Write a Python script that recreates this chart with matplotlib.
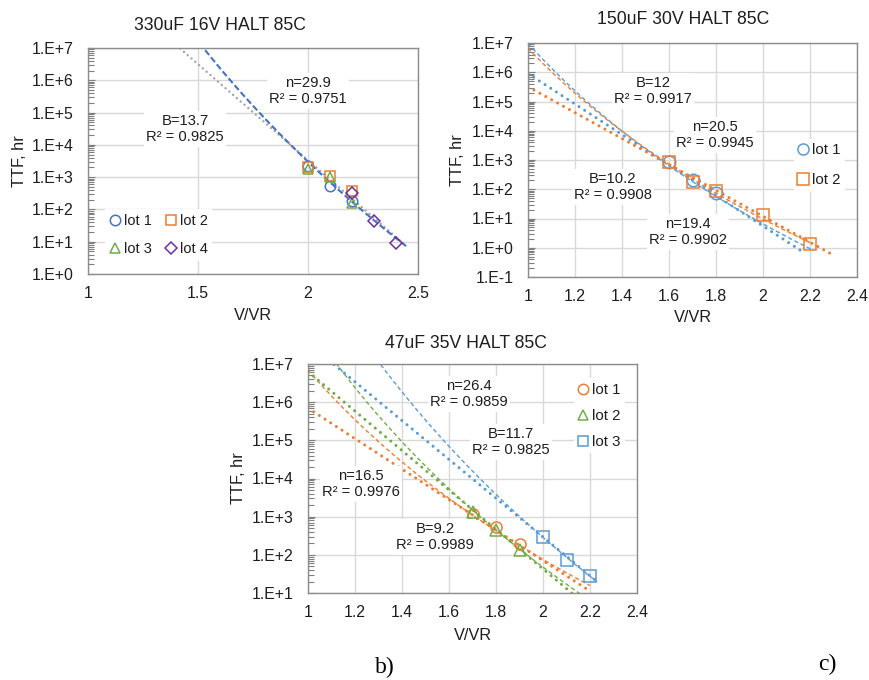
import numpy as np
import matplotlib
matplotlib.use('Agg')
import matplotlib.pyplot as plt
from matplotlib.ticker import LogLocator, NullFormatter
from matplotlib.lines import Line2D

plt.rcParams['font.family'] = ['Liberation Sans', 'DejaVu Sans']

# ---------------- data: 330uF 16V HALT 85C ----------------
a_title = "330uF 16V HALT 85C"
a_x = [2.0, 2.1, 2.2]
a_lot1 = [2200, 540, 182]
a_lot2 = [2100, 1080, 370]
a_lot3 = [1750, 1030, 155]
a_lot4_x = [2.2, 2.3, 2.4]
a_lot4 = [316, 45, 9.3]
# trendlines: (kind, coefficient, exponent, x_start, x_end)
a_exp_fit = ("exp", 2.65e15, 13.7, 1.0, 2.45)
a_pow_fit = ("pow", 3.0e12, 29.9, 1.0, 2.45)
a_labels = ["n=29.9\nR² = 0.9751", "B=13.7\nR² = 0.9825"]
a_xticks = [1, 1.5, 2, 2.5]
a_xticklabels = ["1", "1.5", "2", "2.5"]
a_yticks = [1e0, 1e1, 1e2, 1e3, 1e4, 1e5, 1e6, 1e7]
a_yticklabels = ["1.E+0", "1.E+1", "1.E+2", "1.E+3", "1.E+4", "1.E+5", "1.E+6", "1.E+7"]

# ---------------- data: 150uF 30V HALT 85C ----------------
b_title = "150uF 30V HALT 85C"
b_lot1_x = [1.6, 1.7, 1.8]
b_lot1 = [830, 208, 77]
b_lot2_x = [1.6, 1.7, 1.8, 2.0, 2.2]
b_lot2 = [880, 182, 90, 13.3, 1.37]
b_lot1_pow = ("pow", 9.7e6, 20.5, 1.0, 2.214)
b_lot2_pow = ("pow", 6.6e6, 19.4, 1.0, 2.2)
b_lot1_exp = ("exp", 1.465e11, 12.0, 1.0, 2.179)
b_lot2_exp = ("exp", 8.6e9, 10.2, 1.0, 2.292)
b_labels = ["B=12\nR² = 0.9917", "n=20.5\nR² = 0.9945",
            "B=10.2\nR² = 0.9908", "n=19.4\nR² = 0.9902"]
b_xticks = [1, 1.2, 1.4, 1.6, 1.8, 2, 2.2, 2.4]
b_xticklabels = ["1", "1.2", "1.4", "1.6", "1.8", "2", "2.2", "2.4"]
b_yticks = [1e-1, 1e0, 1e1, 1e2, 1e3, 1e4, 1e5, 1e6, 1e7]
b_yticklabels = ["1.E-1", "1.E+0", "1.E+1", "1.E+2", "1.E+3", "1.E+4",
                 "1.E+5", "1.E+6", "1.E+7"]

# ---------------- data: 47uF 35V HALT 85C ----------------
c_title = "47uF 35V HALT 85C"
c_lot1_x = [1.7, 1.8, 1.9]
c_lot1 = [1175, 525, 196]
c_lot2_x = [1.7, 1.8, 1.9]
c_lot2 = [1325, 437, 136]
c_lot3_x = [2.0, 2.1, 2.2]
c_lot3 = [293, 75, 28.5]
c_lot1_pow = ("pow", 7.0e6, 16.5, 1.0, 2.2)
c_lot1_exp = ("exp", 6.9e9, 9.2, 1.0, 2.2)
c_lot2_pow = ("pow", 1.147e8, 21.2, 1.0, 2.16)
c_lot2_exp = ("exp", 9.28e11, 11.9, 1.0, 2.14)
c_lot3_pow = ("pow", 7.3e9, 24.6, 1.0, 2.23)
c_lot3_exp = ("exp", 4.26e12, 11.7, 1.0, 2.23)
c_labels = ["n=26.4\nR² = 0.9859", "B=11.7\nR² = 0.9825",
            "n=16.5\nR² = 0.9976", "B=9.2\nR² = 0.9989"]
c_xticks = [1, 1.2, 1.4, 1.6, 1.8, 2, 2.2, 2.4]
c_xticklabels = ["1", "1.2", "1.4", "1.6", "1.8", "2", "2.2", "2.4"]
c_yticks = [1e1, 1e2, 1e3, 1e4, 1e5, 1e6, 1e7]
c_yticklabels = ["1.E+1", "1.E+2", "1.E+3", "1.E+4", "1.E+5", "1.E+6", "1.E+7"]

panel_labels = ["b)", "c)"]

# ---------------- styling ----------------
BLUE1 = '#4472C4'
BLUE = '#5B9BD5'
ORANGE = '#ED7D31'
GREEN = '#70AD47'
PURPLE = '#7030A0'
GRAY = '#A5A5A5'
TXT = '#1E1E1E'

W, H = 869, 680
fig = plt.figure(figsize=(W / 100, H / 100), dpi=100)


def px_axes(l, t, r, b):
    return fig.add_axes([l / W, 1 - b / H, (r - l) / W, (b - t) / H])


def fx(x):
    return x / W


def fy(y):
    return 1 - y / H


def style(ax, xlim, xt, xtl, ylim, yt, ytl):
    ax.set_yscale('log')
    ax.set_xlim(*xlim)
    ax.set_ylim(*ylim)
    ax.set_xticks(xt)
    ax.set_xticklabels(xtl)
    ax.set_yticks(yt)
    ax.set_yticklabels(ytl)
    ax.yaxis.set_minor_locator(LogLocator(base=10, subs=np.arange(2, 10), numticks=30))
    ax.yaxis.set_minor_formatter(NullFormatter())
    ax.grid(True, which='major', color='#D9D9D9', lw=1.0)
    ax.set_axisbelow(True)
    for s in ax.spines.values():
        s.set_color('#8C8C8C')
        s.set_linewidth(1.0)
    ax.tick_params(axis='x', length=0, pad=8.5, labelsize=11.4, labelcolor=TXT)
    ax.tick_params(axis='y', which='major', direction='in', length=5,
                   color='#7F7F7F', pad=10.5, labelsize=11.4, labelcolor=TXT)
    ax.tick_params(axis='y', which='minor', direction='in', length=4,
                   color='#7F7F7F', width=0.8)


def trend(ax, fit, color, lw, dashes):
    kind, coef, expo, x0, x1 = fit
    xs = np.linspace(x0, x1, 400)
    if kind == 'exp':
        ys = coef * np.exp(-expo * xs)
    else:
        ys = coef * xs ** (-expo)
    ln, = ax.plot(xs, ys, color=color, lw=lw, zorder=2)
    ln.set_dashes(dashes)
    ln.set_dash_capstyle('round' if dashes[0] < 0.5 else 'butt')


def marker(ax, x, y, m, color, ms):
    ax.plot(x, y, ls='none', marker=m, ms=ms, mfc='none', mec=color, mew=1.1, zorder=4)


def label(x, y, s):
    fig.text(fx(x), fy(y), s, ha='center', va='center', fontsize=10.6, color=TXT,
             linespacing=1.25, zorder=10,
             bbox=dict(boxstyle='square,pad=0.15', fc='white', ec='none'))


def handle(m, color, ms):
    return Line2D([], [], ls='none', marker=m, ms=ms, mfc='none', mec=color, mew=1.1)


# ================= panel A =================
axA = px_axes(88, 48, 418, 274)
style(axA, (1, 2.5), a_xticks, a_xticklabels, (1e0, 1e7), a_yticks, a_yticklabels)
trend(axA, a_exp_fit, GRAY, 1.8, (0.01, 2.0))
trend(axA, a_pow_fit, BLUE1, 1.5, (3.0, 1.4))
marker(axA, a_x, a_lot1, 'o', BLUE1, 7.5)
marker(axA, a_x, a_lot2, 's', ORANGE, 7.0)
marker(axA, a_x, a_lot3, '^', GREEN, 7.5)
marker(axA, a_lot4_x, a_lot4, 'D', PURPLE, 6.0)
hA = [handle('o', BLUE1, 7.5), handle('^', GREEN, 7.5),
      handle('s', ORANGE, 7.0), handle('D', PURPLE, 6.0)]
legA = axA.legend(hA, ["lot 1", "lot 3", "lot 2", "lot 4"], ncol=2,
                  loc='upper left', bbox_to_anchor=(fx(98), fy(202)),
                  bbox_transform=fig.transFigure, frameon=True, fancybox=False,
                  edgecolor='none', facecolor='white', framealpha=1,
                  fontsize=10.5, handlelength=0.7, handletextpad=0.25,
                  columnspacing=1.0, labelspacing=1.0, borderpad=0.3)
for t in legA.get_texts():
    t.set_color(TXT)
fig.text(fx(220), fy(26), a_title, ha='center', va='center', fontsize=12.7, color=TXT)
fig.text(fx(19), fy(161), "TTF, hr", rotation=90, ha='center', va='center',
         fontsize=11.8, color=TXT)
fig.text(fx(253), fy(316), "V/VR", ha='center', va='center', fontsize=11.8, color=TXT)
label(308, 91, a_labels[0])
label(185, 129, a_labels[1])

# ================= panel B =================
axB = px_axes(528, 43, 857, 277)
style(axB, (1, 2.4), b_xticks, b_xticklabels, (1e-1, 1e7), b_yticks, b_yticklabels)
trend(axB, b_lot1_pow, BLUE, 1.0, (3.0, 2.0))
trend(axB, b_lot2_pow, ORANGE, 1.0, (3.0, 2.0))
trend(axB, b_lot1_exp, BLUE, 2.2, (0.01, 2.2))
trend(axB, b_lot2_exp, ORANGE, 2.2, (0.01, 2.2))
marker(axB, b_lot1_x, b_lot1, 'o', BLUE, 9.0)
marker(axB, b_lot2_x, b_lot2, 's', ORANGE, 8.5)
hB = [handle('o', BLUE, 8.0), handle('s', ORANGE, 8.0)]
legB = axB.legend(hB, ["lot 1", "lot 2"], loc='upper left',
                  bbox_to_anchor=(fx(786), fy(131)), bbox_transform=fig.transFigure,
                  frameon=True, fancybox=False, edgecolor='none', facecolor='white',
                  framealpha=1, fontsize=10.8, handlelength=0.7, handletextpad=0.2,
                  labelspacing=1.1, borderpad=0.3)
for t in legB.get_texts():
    t.set_color(TXT)
fig.text(fx(683), fy(20), b_title, ha='center', va='center', fontsize=12.7, color=TXT)
fig.text(fx(457), fy(160), "TTF, hr", rotation=90, ha='center', va='center',
         fontsize=11.8, color=TXT)
fig.text(fx(693), fy(318), "V/VR", ha='center', va='center', fontsize=11.8, color=TXT)
label(653, 91, b_labels[0])
label(715, 135, b_labels[1])
label(613, 187, b_labels[2])
label(688, 232, b_labels[3])

# ================= panel C =================
axC = px_axes(308, 364, 637, 593)
style(axC, (1, 2.4), c_xticks, c_xticklabels, (1e1, 1e7), c_yticks, c_yticklabels)
trend(axC, c_lot1_pow, ORANGE, 1.0, (3.0, 2.0))
trend(axC, c_lot2_pow, GREEN, 1.0, (3.0, 2.0))
trend(axC, c_lot3_pow, BLUE, 1.0, (3.0, 2.0))
trend(axC, c_lot1_exp, ORANGE, 2.2, (0.01, 2.2))
trend(axC, c_lot2_exp, GREEN, 2.2, (0.01, 2.2))
trend(axC, c_lot3_exp, BLUE, 2.2, (0.01, 2.2))
marker(axC, c_lot1_x, c_lot1, 'o', ORANGE, 8.0)
marker(axC, c_lot2_x, c_lot2, '^', GREEN, 8.0)
marker(axC, c_lot3_x, c_lot3, 's', BLUE, 8.0)
hC = [handle('o', ORANGE, 7.5), handle('^', GREEN, 7.5), handle('s', BLUE, 7.5)]
legC = axC.legend(hC, ["lot 1", "lot 2", "lot 3"], loc='upper left',
                  bbox_to_anchor=(fx(566), fy(371)), bbox_transform=fig.transFigure,
                  frameon=True, fancybox=False, edgecolor='none', facecolor='white',
                  framealpha=1, fontsize=10.8, handlelength=0.7, handletextpad=0.2,
                  labelspacing=0.8, borderpad=0.3)
for t in legC.get_texts():
    t.set_color(TXT)
fig.text(fx(466), fy(343), c_title, ha='center', va='center', fontsize=12.7, color=TXT)
fig.text(fx(239), fy(478), "TTF, hr", rotation=90, ha='center', va='center',
         fontsize=11.8, color=TXT)
fig.text(fx(473), fy(635), "V/VR", ha='center', va='center', fontsize=11.8, color=TXT)
label(469, 394, c_labels[0])
label(511, 442, c_labels[1])
label(361, 484, c_labels[2])
label(435, 537, c_labels[3])

fig.text(fx(385), fy(667), panel_labels[0], ha='center', va='center',
         fontsize=17, family=['Liberation Serif', 'DejaVu Serif'], color='black')
fig.text(fx(827), fy(664), panel_labels[1], ha='center', va='center',
         fontsize=17, family=['Liberation Serif', 'DejaVu Serif'], color='black')

fig.savefig('out.png', dpi=100, facecolor='white')
